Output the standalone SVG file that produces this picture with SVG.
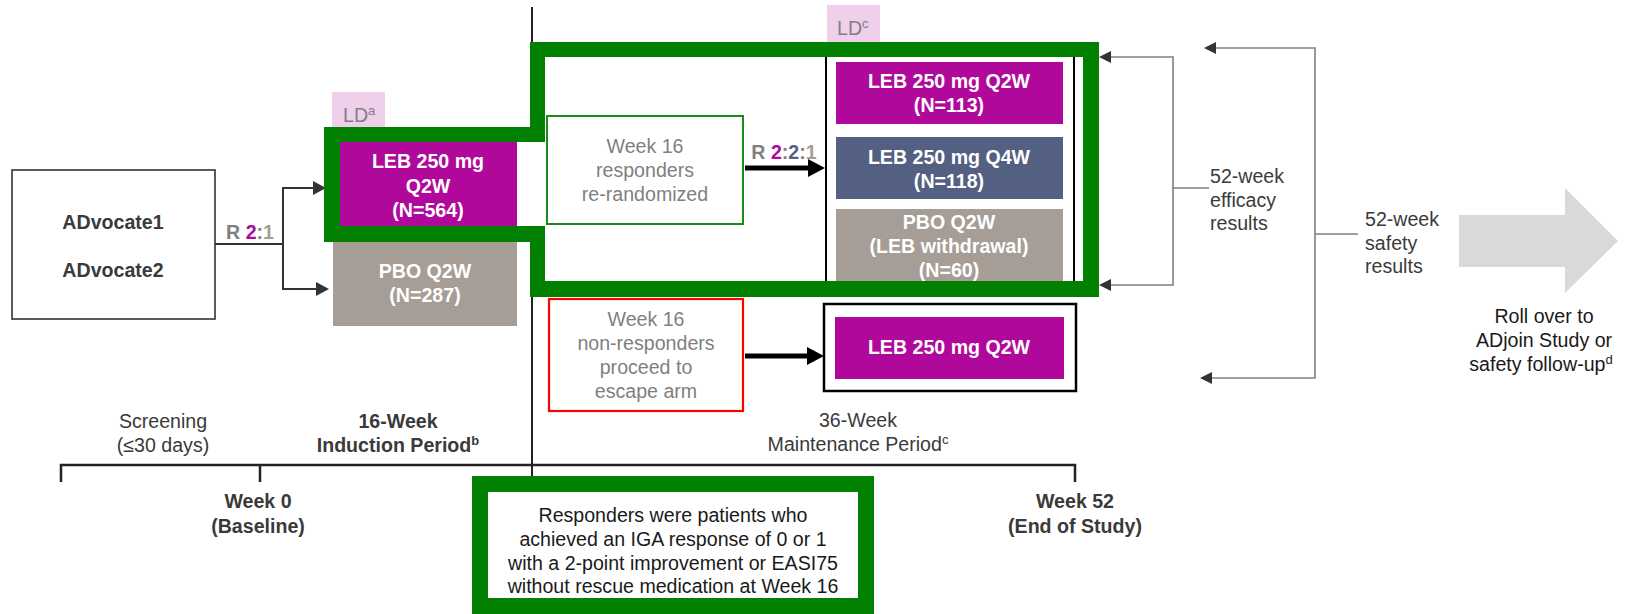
<svg xmlns="http://www.w3.org/2000/svg" width="1626" height="614" viewBox="0 0 1626 614">
<style>
text{font-family:"Liberation Sans",Arial,sans-serif;font-size:19.6px;text-anchor:middle}
.b{font-weight:bold}
.w{fill:#fff;font-weight:bold}
.g{fill:#7f7f7f}
.d{fill:#3a3a3a}
.k{fill:#1a1a1a}
.sup{font-size:13px}
.mag{fill:#b1089c}
.blu{fill:#546082}
.pbo{fill:#a59d96}
.conn{fill:none;stroke:#333;stroke-width:2}
.br{fill:none;stroke:#808080;stroke-width:1.6}
.ah{fill:#333}
.thick{fill:none;stroke:#000;stroke-width:5}
.green{fill:#018001}
</style>

<g id="connectors">
  <line x1="532" y1="7" x2="532" y2="127" stroke="#222" stroke-width="2"/>
  <line x1="532" y1="242" x2="532" y2="477" stroke="#222" stroke-width="2"/>
  <path class="conn" d="M215,244 H283 M283,188 V289 M282,188 H314 M282,289 H317"/>
  <polygon class="ah" points="326,188 313,181 313,195"/>
  <polygon class="ah" points="329,289 316,282 316,296"/>
  <path class="thick" d="M745,168 H810"/>
  <polygon fill="#000" points="825,168 808,159 808,177"/>
  <path class="thick" d="M745,356 H808"/>
  <polygon fill="#000" points="824,356 807,347 807,365"/>
  <path class="br" d="M1109,57 H1173 V285 H1109 M1173,188 H1209"/>
  <polygon class="ah" points="1099,57 1111,51 1111,63"/>
  <polygon class="ah" points="1099,285 1111,279 1111,291"/>
  <path class="br" d="M1214,48 H1315 V378 H1210 M1315,234 H1358"/>
  <polygon class="ah" points="1204,48 1216,42 1216,54"/>
  <polygon class="ah" points="1200,378 1212,372 1212,384"/>
  <polygon fill="#d9d9d9" points="1459,215 1565,215 1565,188 1618,241 1565,293 1565,267 1459,267"/>
</g>

<g id="advocate">
  <rect x="12" y="170" width="203" height="149" fill="#fff" stroke="#333" stroke-width="1.6"/>
  <text class="b d" x="113" y="229">ADvocate1</text>
  <text class="b d" x="113" y="277">ADvocate2</text>
</g>

<g id="ratio1">
  <text class="b" x="250" y="239"><tspan class="g">R </tspan><tspan class="mag">2</tspan><tspan class="g">:</tspan><tspan class="pbo">1</tspan></text>
</g>

<g id="lda">
  <rect x="332" y="92" width="53" height="35" fill="#f0cfeb"/>
  <text class="g" x="343" y="122" style="text-anchor:start">LD<tspan class="sup" dy="-7">a</tspan></text>
</g>

<g id="ldc">
  <rect x="827" y="5" width="53" height="37" fill="#f0cfeb"/>
  <text class="g" x="837" y="35" style="text-anchor:start">LD<tspan class="sup" dy="-7">c</tspan></text>
</g>

<g id="induction-leb">
  <rect x="340" y="142" width="177" height="84" class="mag"/>
  <text class="w" x="428" y="168">LEB 250 mg</text>
  <text class="w" x="428" y="193">Q2W</text>
  <text class="w" x="428" y="217">(N=564)</text>
</g>

<g id="induction-pbo">
  <rect x="333" y="242" width="184" height="84" class="pbo"/>
  <text class="w" x="425" y="278">PBO Q2W</text>
  <text class="w" x="425" y="302">(N=287)</text>
</g>

<g id="responders">
  <rect x="547" y="116" width="196" height="108" fill="#fff" stroke="#1a8a1a" stroke-width="2"/>
  <text class="g" x="645" y="153">Week 16</text>
  <text class="g" x="645" y="177">responders</text>
  <text class="g" x="645" y="201">re-randomized</text>
  <text class="b" x="784" y="159"><tspan class="g">R </tspan><tspan class="mag">2</tspan><tspan class="g">:</tspan><tspan class="blu">2</tspan><tspan class="g">:</tspan><tspan class="pbo">1</tspan></text>
</g>

<g id="maint-arms">
  <rect x="826" y="50" width="248" height="240" fill="none" stroke="#000" stroke-width="2"/>
  <rect x="836" y="62" width="227" height="62" class="mag"/>
  <text class="w" x="949" y="88">LEB 250 mg Q2W</text>
  <text class="w" x="949" y="112">(N=113)</text>
  <rect x="836" y="137" width="227" height="62" class="blu"/>
  <text class="w" x="949" y="164">LEB 250 mg Q4W</text>
  <text class="w" x="949" y="188">(N=118)</text>
  <rect x="836" y="209" width="227" height="76" class="pbo"/>
  <text class="w" x="949" y="229">PBO Q2W</text>
  <text class="w" x="949" y="253">(LEB withdrawal)</text>
  <text class="w" x="949" y="277">(N=60)</text>
</g>

<g id="green-frame">
  <path class="green" fill-rule="evenodd" d="M324,127 H530 V42 H1099 V297 H530 V242 H324 Z M340,142 V226 H545 V281 H1083 V57 H545 V142 Z"/>
</g>

<g id="nonresponders">
  <rect x="549" y="299" width="194" height="112" fill="#fff" stroke="#ff0000" stroke-width="2.2"/>
  <text class="g" x="646" y="326">Week 16</text>
  <text class="g" x="646" y="350">non-responders</text>
  <text class="g" x="646" y="374">proceed to</text>
  <text class="g" x="646" y="398">escape arm</text>
</g>

<g id="escape-arm">
  <rect x="824" y="304" width="252" height="87" fill="#fff" stroke="#000" stroke-width="2.5"/>
  <rect x="835" y="317" width="229" height="62" class="mag"/>
  <text class="w" x="949" y="354">LEB 250 mg Q2W</text>
</g>

<g id="efficacy">
  <text class="d" x="1210" y="183" style="text-anchor:start">52-week</text>
  <text class="d" x="1210" y="207" style="text-anchor:start">efficacy</text>
  <text class="d" x="1210" y="230" style="text-anchor:start">results</text>
</g>

<g id="safety">
  <text class="d" x="1365" y="226" style="text-anchor:start">52-week</text>
  <text class="d" x="1365" y="250" style="text-anchor:start">safety</text>
  <text class="d" x="1365" y="273" style="text-anchor:start">results</text>
</g>

<g id="rollover">
  <text class="k" x="1544" y="323">Roll over to</text>
  <text class="k" x="1544" y="347">ADjoin Study or</text>
  <text class="k" x="1541" y="371">safety follow-up<tspan class="sup" dy="-7">d</tspan></text>
</g>

<g id="timeline">
  <path d="M61,482 V465 H1075 V482 M260,465 V482" fill="none" stroke="#222" stroke-width="2.5"/>
  <text class="d" x="163" y="428">Screening</text>
  <text class="d" x="163" y="452">(≤30 days)</text>
  <text class="b d" x="398" y="428">16-Week</text>
  <text class="b d" x="398" y="452">Induction Period<tspan class="sup" dy="-7">b</tspan></text>
  <text class="d" x="858" y="427">36-Week</text>
  <text class="d" x="858" y="451">Maintenance Period<tspan class="sup" dy="-7">c</tspan></text>
  <text class="b d" x="258" y="508">Week 0</text>
  <text class="b d" x="258" y="533">(Baseline)</text>
  <text class="b d" x="1075" y="508">Week 52</text>
  <text class="b d" x="1075" y="533">(End of Study)</text>
</g>

<g id="responder-definition">
  <rect x="480" y="484" width="386" height="122" fill="#fff" stroke="#018001" stroke-width="16"/>
  <text class="k" x="673" y="522">Responders were patients who</text>
  <text class="k" x="673" y="546">achieved an IGA response of 0 or 1</text>
  <text class="k" x="673" y="570">with a 2-point improvement or EASI75</text>
  <text class="k" x="673" y="593">without rescue medication at Week 16</text>
</g>
</svg>
